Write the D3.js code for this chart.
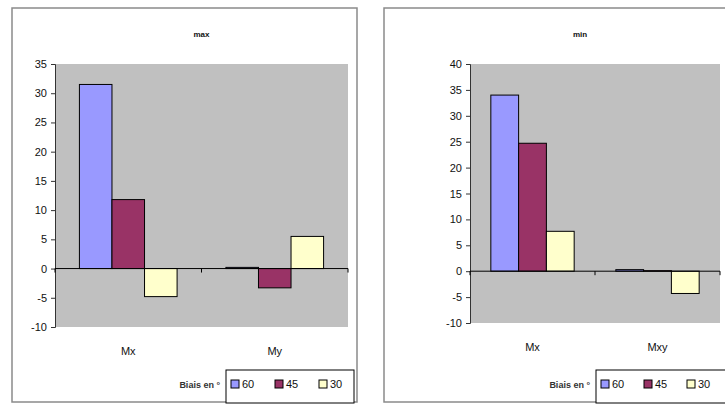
<!DOCTYPE html>
<html>
<head>
<meta charset="utf-8">
<script src="https://cdn.jsdelivr.net/npm/d3@7"></script>
<style>
  html, body { margin: 0; padding: 0; background: #ffffff; }
  svg { display: block; font-family: Arial, "Liberation Sans", sans-serif; }
</style>
</head>
<body>
<svg id="chart" width="725" height="404"></svg>
<script>
// Bias angles (degrees) shown as the three series
const biasSeries = ["60", "45", "30"];
const biasColors = ["#9999ff", "#993366", "#ffffcc"];
const legendTitle = "Biais en °";

// "max" panel
const maxTitle = "max";
const maxCategories = ["Mx", "My"];
const maxBias60 = [31.5, 0.2];
const maxBias45 = [11.8, -3.3];
const maxBias30 = [-4.8, 5.5];
const maxTicks = [-10, -5, 0, 5, 10, 15, 20, 25, 30, 35];

// "min" panel
const minTitle = "min";
const minCategories = ["Mx", "Mxy"];
const minBias60 = [34, 0.3];
const minBias45 = [24.7, 0.1];
const minBias30 = [7.7, -4.3];
const minTicks = [-10, -5, 0, 5, 10, 15, 20, 25, 30, 35, 40];

const svg = d3.select("#chart");

function drawPanel(opt) {
  const g = svg.append("g");

  // outer frame of the chart
  g.append("rect")
    .attr("x", opt.frame[0]).attr("y", opt.frame[1])
    .attr("width", opt.frame[2]).attr("height", opt.frame[3])
    .attr("fill", "#ffffff").attr("stroke", "#8a8a8a").attr("stroke-width", 1.5);

  const x0 = d3.scaleBand().domain(opt.categories).range([opt.plot.x0, opt.plot.x1]);
  const bw = x0.bandwidth() / 4.5;  // gap width 150 %
  const x1 = d3.scaleBand().domain(biasSeries)
    .range([0.75 * bw, 0.75 * bw + 3 * bw]);
  const y = d3.scaleLinear()
    .domain([opt.ticks[0], opt.ticks[opt.ticks.length - 1]])
    .range([opt.plot.y1, opt.plot.y0]);

  // plot area
  g.append("rect")
    .attr("x", opt.plot.x0).attr("y", opt.plot.y0)
    .attr("width", opt.plot.x1 - opt.plot.x0)
    .attr("height", opt.plot.y1 - opt.plot.y0)
    .attr("fill", "#c0c0c0");

  // title
  g.append("text")
    .attr("x", (opt.plot.x0 + opt.plot.x1) / 2 + opt.titleDx)
    .attr("y", 37)
    .attr("text-anchor", "middle")
    .attr("font-size", 8).attr("font-weight", "bold").attr("fill", "#111")
    .text(opt.title);

  // bars
  const rows = [];
  opt.categories.forEach((c, i) => {
    biasSeries.forEach((s, j) => rows.push({ c, s, j, v: opt.values[j][i] }));
  });
  g.selectAll("rect.bar").data(rows).join("rect")
    .attr("class", "bar")
    .attr("x", d => x0(d.c) + x1(d.s))
    .attr("width", x1.bandwidth())
    .attr("y", d => y(Math.max(0, d.v)))
    .attr("height", d => Math.abs(y(d.v) - y(0)))
    .attr("fill", d => biasColors[d.j])
    .attr("stroke", "#000").attr("stroke-width", 1);

  // value axis
  const yAxis = d3.axisLeft(y).tickValues(opt.ticks).tickSize(4).tickPadding(4)
    .tickFormat(d => String(d));
  const ya = g.append("g")
    .attr("transform", `translate(${opt.plot.x0},0)`)
    .call(yAxis);
  ya.select(".domain").attr("stroke", "#333");
  ya.selectAll(".tick line").attr("stroke", "#333");
  ya.selectAll(".tick text")
    .attr("font-size", 11).attr("fill", "#111")
    .attr("font-family", "Arial, 'Liberation Sans', sans-serif");

  // category axis along zero
  g.append("line")
    .attr("x1", opt.plot.x0).attr("x2", opt.plot.x1)
    .attr("y1", y(0)).attr("y2", y(0))
    .attr("stroke", "#000").attr("stroke-width", 1);
  g.selectAll("line.ctick").data(d3.range(opt.categories.length + 1)).join("line")
    .attr("class", "ctick")
    .attr("x1", i => opt.plot.x0 + i * x0.step())
    .attr("x2", i => opt.plot.x0 + i * x0.step())
    .attr("y1", y(0)).attr("y2", y(0) + 4)
    .attr("stroke", "#000");

  // category labels below the plot
  g.selectAll("text.cat").data(opt.categories).join("text")
    .attr("class", "cat")
    .attr("x", d => x0(d) + x0.bandwidth() / 2)
    .attr("y", opt.plot.y1 + 28)
    .attr("text-anchor", "middle")
    .attr("font-size", 11).attr("fill", "#111")
    .text(d => d);

  // legend
  const lg = opt.legend;
  g.append("text")
    .attr("x", lg.x - 6).attr("y", lg.y + 18)
    .attr("text-anchor", "end")
    .attr("font-size", 9).attr("font-weight", "bold").attr("fill", "#333")
    .text(legendTitle);
  g.append("rect")
    .attr("x", lg.x).attr("y", lg.y)
    .attr("width", lg.w).attr("height", lg.h)
    .attr("fill", "#fff").attr("stroke", "#000").attr("stroke-width", 1);
  const item = g.selectAll("g.item").data(biasSeries).join("g")
    .attr("class", "item")
    .attr("transform", (d, i) => `translate(${lg.x + 5 + i * lg.step},${lg.y + 10})`);
  item.append("rect")
    .attr("width", 8).attr("height", 8)
    .attr("fill", (d, i) => biasColors[i])
    .attr("stroke", "#000").attr("stroke-width", 1);
  item.append("text")
    .attr("x", 11).attr("y", 8)
    .attr("font-size", 11).attr("fill", "#111")
    .text(d => d);
}

drawPanel({
  frame: [12, 8, 345, 394],
  plot: { x0: 55, x1: 348, y0: 64, y1: 327 },
  title: maxTitle, titleDx: 0,
  categories: maxCategories,
  values: [maxBias60, maxBias45, maxBias30],
  ticks: maxTicks,
  legend: { x: 226, y: 370, w: 128, h: 33, step: 44 }
});

drawPanel({
  frame: [384, 8, 350, 394],
  plot: { x0: 470, x1: 720, y0: 64, y1: 323 },
  title: minTitle, titleDx: -15,
  categories: minCategories,
  values: [minBias60, minBias45, minBias30],
  ticks: minTicks,
  legend: { x: 596, y: 370, w: 140, h: 33, step: 43 }
});
</script>
</body>
</html>
